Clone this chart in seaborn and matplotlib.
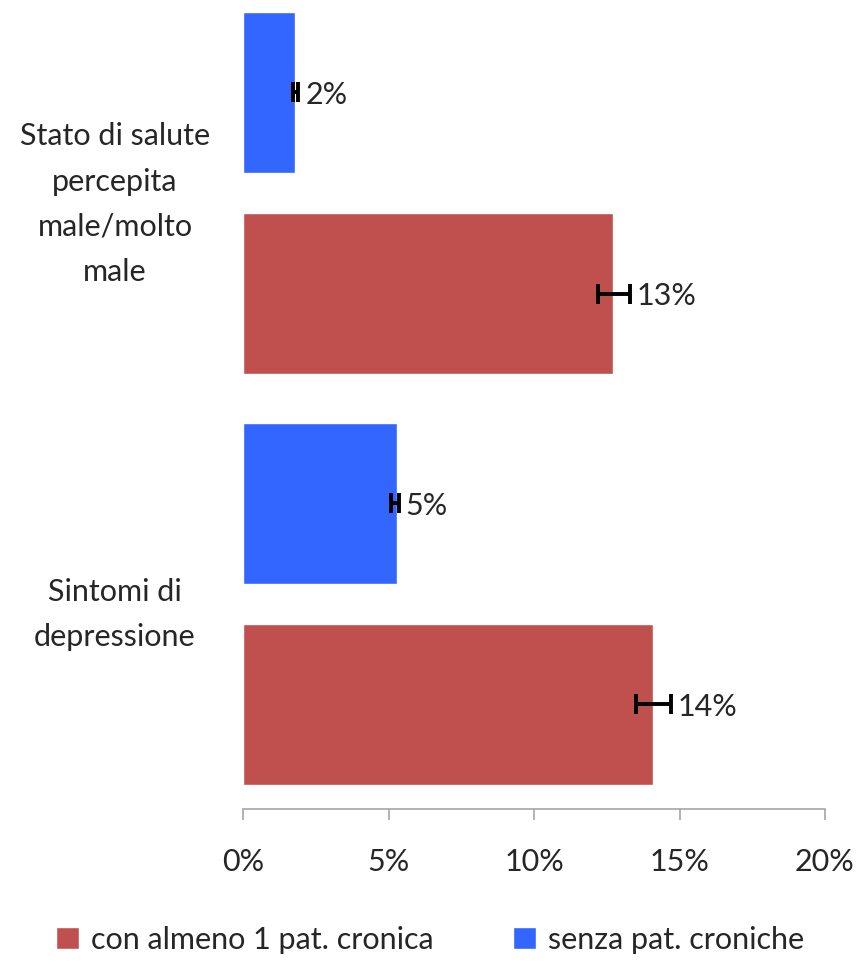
import pandas as pd
import numpy as np
import seaborn as sns
import matplotlib.pyplot as plt
from matplotlib.patches import Patch

# Data
categories = ["Stato di salute\npercepita\nmale/molto\nmale", "Sintomi di\ndepressione"]
groups = ["senza pat. croniche", "con almeno 1 pat. cronica"]
senza_values = [1.8, 5.3]
con_values = [12.7, 14.1]
senza_low = [1.7, 5.1]
senza_high = [1.9, 5.35]
con_low = [12.2, 13.5]
con_high = [13.3, 14.7]
senza_labels = ["2%", "5%"]
con_labels = ["13%", "14%"]

colors = {"senza pat. croniche": "#3366FF", "con almeno 1 pat. cronica": "#C0504D"}

df = pd.DataFrame({
    "Categoria": categories * 2,
    "Gruppo": [groups[0]] * 2 + [groups[1]] * 2,
    "Valore": senza_values + con_values,
})

sns.set_style("white")
plt.rcParams["font.family"] = ["Lato", "DejaVu Sans"]
FS = 22

fig = plt.figure(figsize=(8.6, 9.61), dpi=100)
ax = fig.add_axes([0.2826, 0.1582, 0.6767, 0.8418])

sns.barplot(
    data=df,
    y="Categoria",
    x="Valore",
    hue="Gruppo",
    order=categories,
    hue_order=groups,
    palette=colors,
    orient="h",
    width=0.98,
    gap=0.2,
    saturation=1,
    legend=False,
    ax=ax,
)

# Error bars and value labels
err_sets = [
    (senza_values, senza_low, senza_high, senza_labels),
    (con_values, con_low, con_high, con_labels),
]
for container, (vals, lows, highs, labels) in zip(ax.containers, err_sets):
    for bar, v, lo, hi, lab in zip(container, vals, lows, highs, labels):
        yc = bar.get_y() + bar.get_height() / 2
        ax.errorbar(
            x=v, y=yc,
            xerr=[[v - lo], [hi - v]],
            fmt="none", ecolor="black", elinewidth=2.8,
            capsize=7, capthick=2.8, zorder=5,
        )
        ax.annotate(
            lab, xy=(hi, yc), xytext=(5, -2), textcoords="offset points",
            ha="left", va="center", fontsize=FS,
        )

ax.set_xlim(0, 20)
ax.set_ylim(1.5, -0.47)
ax.set_xticks([0, 5, 10, 15, 20])
ax.set_xticklabels(["0%", "5%", "10%", "15%", "20%"], fontsize=FS)
ax.set_xlabel("")
ax.set_ylabel("")

for side in ["top", "right", "left"]:
    ax.spines[side].set_visible(False)
ax.spines["bottom"].set_color("#A6A6A6")
ax.spines["bottom"].set_linewidth(1.2)
ax.tick_params(axis="x", bottom=True, direction="out", length=8, width=1.2,
               color="#A6A6A6", pad=20)
ax.tick_params(axis="y", length=0, pad=0)

for lbl in ax.get_yticklabels():
    lbl.set_fontsize(FS)
    lbl.set_multialignment("center")
    lbl.set_horizontalalignment("center")
    lbl.set_linespacing(1.75)
    lbl.set_x(-0.22)

# Legend at the bottom, red entry first
handles = [
    Patch(facecolor=colors[groups[1]], label=groups[1]),
    Patch(facecolor=colors[groups[0]], label=groups[0]),
]
fig.legend(
    handles=handles, loc="center", bbox_to_anchor=(0.5, 0.022),
    ncol=2, frameon=False, fontsize=FS, handlelength=0.75, handleheight=0.75,
    handletextpad=0.4, columnspacing=2.6,
)

plt.savefig("out.png", dpi=100)
